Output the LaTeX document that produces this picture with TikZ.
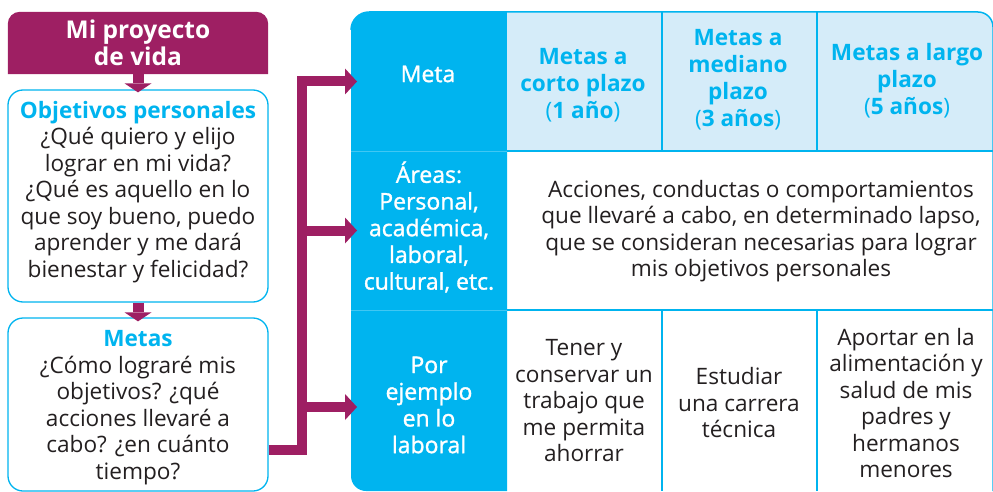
\documentclass[tikz,border=0pt]{standalone}
\usepackage{fontspec}
\setmainfont{Open Sans}
\newfontfamily\semibf[FakeBold=1.3]{Open Sans}
\usetikzlibrary{arrows.meta,calc}
\definecolor{mag}{HTML}{9E1F63}
\definecolor{cy}{HTML}{00B4EF}
\definecolor{lb}{HTML}{D5ECF9}
\definecolor{txt}{HTML}{231F20}
\pgfdeclarelayer{bg}
\pgfsetlayers{bg,main}
\begin{document}
\begin{tikzpicture}[x=1pt,y=-1pt,
  body/.style={font=\fontsize{22.6}{26.5}\selectfont, text=txt, align=center, inner sep=0pt},
  wtxt/.style={font=\semibf\fontsize{23}{26.7}\selectfont, text=white, align=center, inner sep=0pt},
  head/.style={font=\fontsize{22.6}{27}\selectfont\bfseries, text=cy, align=center, inner sep=0pt},
  roundbox/.style={draw=cy, line width=1.3pt, rounded corners=15pt, fill=white, inner sep=0pt},
  cell/.style={inner sep=0pt, outer sep=0pt},
  smallarr/.style={draw=mag, line width=11pt, -{Triangle[length=9pt 0, width=27pt 0, line width=0pt]}},
  branch/.style={draw=mag, line width=10pt, -{Triangle[length=12pt 0, width=26pt 0, line width=0pt]}},
  grid/.style={draw=cy, line width=1.5pt}
]
\useasboundingbox (0,0) rectangle (993,492);

% ---------- left column ----------
\node[font=\fontsize{24.5}{27}\selectfont\bfseries, text=white, align=center,
      minimum width=260pt, minimum height=62pt, inner sep=0pt] (title) at (138,43) {Mi proyecto\\de vida};
\begin{pgfonlayer}{bg}
  \fill[mag] (title.south west) -- ($(title.north west)+(0,12)$)
     arc[start angle=180, end angle=90, radius=12pt] -- ($(title.north east)+(-12,0)$)
     arc[start angle=90, end angle=0, radius=12pt] -- (title.south east) -- cycle;
\end{pgfonlayer}

\node[roundbox, minimum width=260pt, minimum height=212pt] (obj) at (138,196) {};
\node[body] (objtxt) at (138,192) {{\color{cy}\bfseries Objetivos personales}\\¿Qué quiero y elijo\\lograr en mi vida?\\¿Qué es aquello en lo\\que soy bueno, puedo\\aprender y me dará\\bienestar y felicidad?};

\node[roundbox, minimum width=260pt, minimum height=173pt] (metas) at (138,404.5) {};
\node[body] (metastxt) at (138,407.5) {{\color{cy}\bfseries Metas}\\¿Cómo lograré mis\\objetivos? ¿qué\\acciones llevaré a\\cabo? ¿en cuánto\\tiempo?};

\draw[smallarr, shorten >=-3pt] (title.south) -- (obj.north);
\draw[smallarr, shorten >=-4pt] (obj.south) -- (metas.north);

% ---------- table backgrounds ----------
\fill[cy] (507,12) -- (369,12) arc[start angle=90, end angle=180, radius=18pt]
   -- (351,476) arc[start angle=180, end angle=270, radius=15pt] -- (507,491) -- cycle;
\fill[lb] (507,12) -- (978,12) arc[start angle=90, end angle=0, radius=15pt]
   -- (993,151) -- (507,151) -- cycle;
\draw[grid] (369,12) -- (978,12) arc[start angle=90, end angle=0, radius=15pt] -- (993,491);
\draw[grid] (369,12) arc[start angle=90, end angle=180, radius=18pt];
\draw[grid] (507,151) -- (993,151);
\draw[grid] (507,310) -- (993,310);
\draw[grid] (662,12) -- (662,151);
\draw[grid] (817,12) -- (817,151);
\draw[grid] (662,310) -- (662,491);
\draw[grid] (817,310) -- (817,491);
\draw[cy!75!white, line width=0.8pt] (351,151) -- (507,151);
\draw[cy!75!white, line width=0.8pt] (351,310) -- (507,310);

% ---------- cells (geometry) ----------
\node[cell, minimum width=156pt, minimum height=139pt] (meta) at (429,81.5) {};
\node[cell, minimum width=156pt, minimum height=159pt] (areas) at (429,230.5) {};
\node[cell, minimum width=156pt, minimum height=181pt] (ejemplo) at (429,400.5) {};

% ---------- texts ----------
\node[wtxt] (metat) at (428,74) {Meta};
\node[wtxt] (areast) at (429,227) {Áreas:\\Personal,\\académica,\\laboral,\\cultural, etc.};
\node[wtxt] (ejt) at (429,405) {Por\\ejemplo\\en lo\\laboral};

\node[head] (h1t) at (583,85) {Metas a\\corto plazo\\{\mdseries(}1 año{\mdseries)}};
\node[head] (h2t) at (738,80) {Metas a\\mediano\\plazo\\{\mdseries(}3 años{\mdseries)}};
\node[head] (h3t) at (907,81) {Metas a largo\\plazo\\{\mdseries(}5 años{\mdseries)}};

\node[body] (desct) at (761,231) {Acciones, conductas o comportamientos\\que llevaré a cabo, en determinado lapso,\\que se consideran necesarias para lograr\\mis objetivos personales};
\node[body] (c1t) at (584,401) {Tener y\\conservar un\\trabajo que\\me permita\\ahorrar};
\node[body] (c2t) at (739,403) {Estudiar\\una carrera\\técnica};
\node[body] (c3t) at (906,403) {Aportar en la\\alimentación y\\salud de mis\\padres y\\hermanos\\menores};

% ---------- connectors ----------
\coordinate (jx) at (302,0);
\draw[branch, shorten >=-6pt] ([yshift=-45.5pt]metas.east) -| (jx |- meta.west) -- (meta.west);
\draw[branch, shorten >=-6pt] (jx |- areas.west) -- (areas.west);
\draw[branch, shorten >=-6pt] ([yshift=-6.5pt]jx |- ejemplo.west) -- ([yshift=-6.5pt]ejemplo.west);
\end{tikzpicture}
\end{document}
